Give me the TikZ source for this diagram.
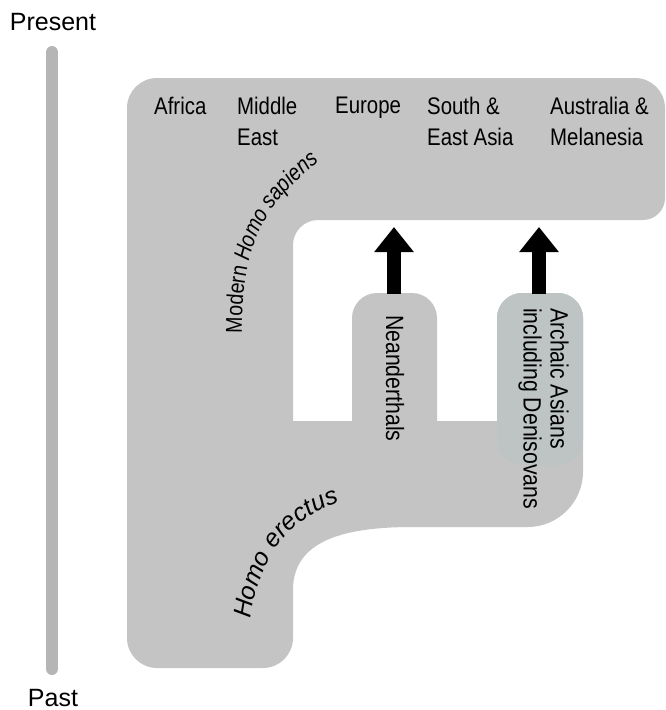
\documentclass[tikz,border=0pt]{standalone}
\usepackage{fontspec}
\setmainfont{Liberation Sans}
\newfontfamily\narrowfont[FakeStretch=0.85]{Liberation Sans}
\usetikzlibrary{arrows.meta,decorations.text}
\definecolor{branchgray}{HTML}{C4C4C4}
\definecolor{archaicgray}{HTML}{BEC4C4}
\definecolor{timegray}{HTML}{B5B5B5}
\newcommand\sapiensfont{\narrowfont\fontsize{23}{28}\selectfont}
\newcommand\erectusfont{\fontsize{25}{30}\selectfont\itshape}
\tikzset{
  region/.style={font=\narrowfont\fontsize{24}{31}\selectfont, align=left, anchor=north west, inner sep=0pt},
  lineage/.style={font=\narrowfont\fontsize{25}{27}\selectfont, align=left, rotate=-90, inner sep=0pt},
  timelabel/.style={font=\fontsize{25}{28}\selectfont, anchor=base},
  gene flow/.style={line width=14pt, -{Triangle[width=38pt,length=25pt]}}
}
\begin{document}
\begin{tikzpicture}[x=1pt,y=-1pt]
\useasboundingbox (0,0) rectangle (665,710);
% time axis
\node[timelabel] (present) at (53,30) {Present};
\node[timelabel] (past) at (53,706) {Past};
\coordinate (axistop) at (52,52);
\coordinate (axisbot) at (52,669);
\draw[timegray, line width=12pt, line cap=round] (axistop) -- (axisbot);

% lineages
\fill[branchgray] (127,400)
  [rounded corners=30pt] -- (127,78) -- (665,78)
  [rounded corners=22pt] -- (665,220)
  [rounded corners=25pt] -- (293,220)
  [sharp corners] -- (293,421) -- (352,421)
  [rounded corners=25pt] -- (352,293) -- (437,293)
  [sharp corners] -- (437,421) -- (497,421)
  [rounded corners=25pt] -- (497,293) -- (583,293)
  [sharp corners] -- (583,472) .. controls (583,502) and (558,527) .. (528,527) -- (413,527)
  .. controls (345,527) and (293,540) .. (293,590)
  [rounded corners=30pt] -- (293,668) -- (127,668) -- cycle;
\fill[archaicgray, rounded corners=25pt] (497,293) rectangle (583,465);

\foreach \px/\name in {154/Africa, 237/{Middle\\East}, 335/Europe, 427/{South \&\\East Asia}, 550/{Australia \&\\Melanesia}}
  \node[region] (region\px) at (\px,97) {\name};

\node[lineage, anchor=base west] (neanderthals) at (386,315) {Neanderthals};
\node[lineage, anchor=north west] (archaic) at (569,308) {Archaic Asians\\including Denisovans};

\path[decorate, decoration={text along path, text align=left,
  text={|\sapiensfont|Modern |\sapiensfont\itshape|Homo sapiens}}]
  (242,333) .. controls (242,258) and (255,212) .. (316,164) -- (346,140);
\path[decorate, decoration={text along path, text align=left,
  text={|\erectusfont|Homo erectus}}]
  (251,619) .. controls (258,560) and (290,515) .. (346,500) -- (380,492);

% gene flow
\coordinate (neaBase) at (394,294);
\coordinate (neaTip) at (394,227);
\coordinate (arcBase) at (539,294);
\coordinate (arcTip) at (539,227);
\draw[gene flow] (neaBase) -- (neaTip);
\draw[gene flow] (arcBase) -- (arcTip);
\end{tikzpicture}
\end{document}
